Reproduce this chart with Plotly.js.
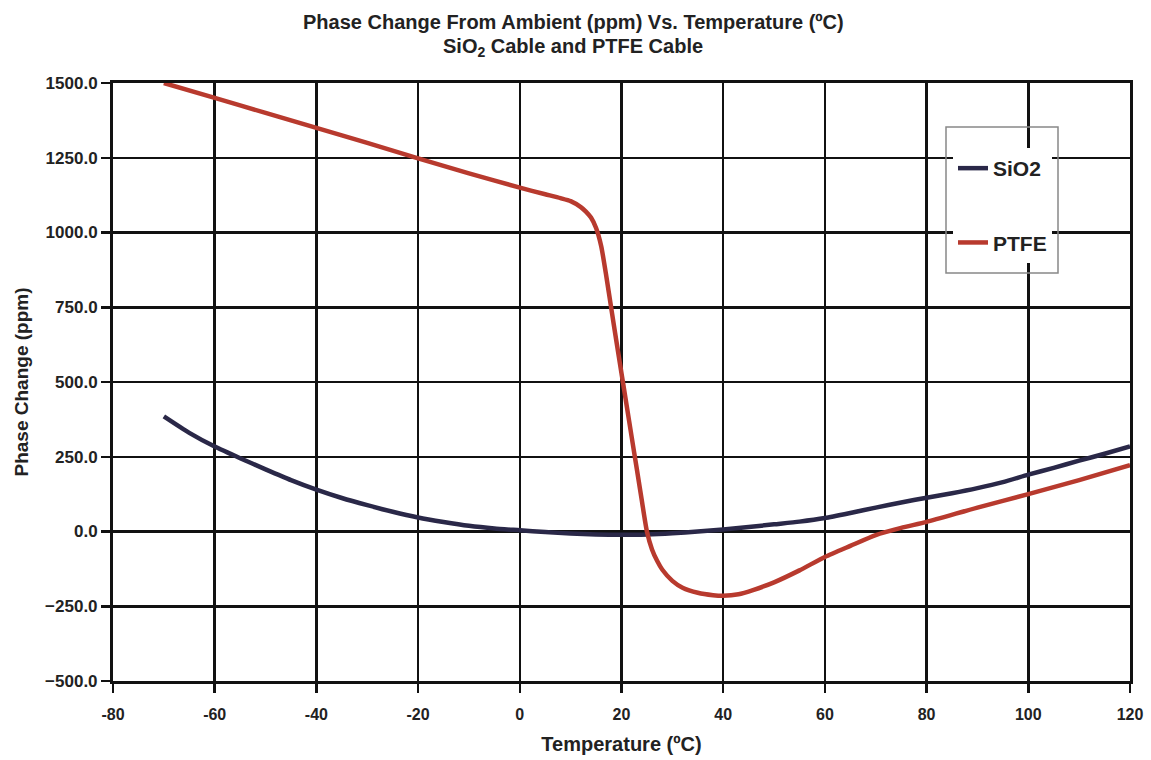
<!DOCTYPE html>
<html>
<head>
<meta charset="utf-8">
<script src="https://cdn.plot.ly/plotly-3.0.1.min.js"></script>
<style>html,body{margin:0;padding:0;background:#fff;}#chart{width:1151px;height:760px;}</style>
</head>
<body>
<div id="chart"></div>
<script>
const sio2X = [-70,-65,-60,-55,-50,-45,-40,-35,-30,-25,-20,-15,-10,-5,0,5,10,15,20,25,30,35,40,45,50,55,60,65,70,75,80,85,90,95,100,105,110,115,120];
const sio2Y = [385,330,284,245,208,172,140,112,88,66,47,32,19,10,4,-2,-7,-10,-11,-10,-6,0,7,15,24,33,45,62,80,97,113,128,145,165,190,213,237,260,285];

const ptfeX = [-70,-60,-50,-40,-30,-20,-10,0,5,8,10,12,13,14,15,16,17,18,19,20,21,22,23,24,25,26,27,28,30,32,35,38,40,43,46,50,55,60,65,70,75,80,90,100,110,120];
const ptfeY = [1500,1450,1400,1350,1300,1248,1198,1150,1128,1115,1105,1085,1070,1050,1015,955,855,745,636,529,423,316,210,103,0,-60,-98,-127,-165,-188,-205,-213,-215,-210,-195,-170,-130,-85,-48,-12,12,32,80,125,172,222];

const xTicks = [-80,-60,-40,-20,0,20,40,60,80,100,120];
const yTicks = [-500,-250,0,250,500,750,1000,1250,1500];

const titleLine1 = 'Phase Change From Ambient (ppm) Vs. Temperature (ºC)';
const titleLine2 = 'SiO<sub>2</sub> Cable and PTFE Cable';

const font = "Liberation Sans, Arial, sans-serif";
const ink = '#222';

const traces = [
  {x: sio2X, y: sio2Y, name: 'SiO2', mode: 'lines', legendgroup: 'a',
   line: {color: '#2a2848', width: 4.5, shape: 'spline', smoothing: 0.6}},
  {x: ptfeX, y: ptfeY, name: 'PTFE', mode: 'lines', legendgroup: 'b',
   line: {color: '#b83a2e', width: 4.5, shape: 'spline', smoothing: 0.6}}
];

const layout = {
  width: 1151, height: 760,
  paper_bgcolor: '#ffffff', plot_bgcolor: '#ffffff',
  margin: {l: 113, r: 21, t: 83, b: 79},
  annotations: [
    {text: '<b>' + titleLine1 + '</b>', xref: 'paper', yref: 'paper', x: (573 - 113) / 1017, y: 1 + (83 - 22) / 598,
     xanchor: 'center', yanchor: 'middle', showarrow: false, font: {family: font, size: 20, color: ink}},
    {text: '<b>' + titleLine2 + '</b>', xref: 'paper', yref: 'paper', x: (573 - 113) / 1017, y: 1 + (83 - 48) / 598,
     xanchor: 'center', yanchor: 'middle', showarrow: false, font: {family: font, size: 20, color: ink}}
  ],
  shapes: [
    {type: 'rect', xref: 'paper', yref: 'paper', layer: 'above',
     x0: (946 - 113) / 1017, x1: (1058 - 113) / 1017,
     y0: (681 - 273) / 598, y1: (681 - 127) / 598,
     line: {color: '#888', width: 1.5}, fillcolor: 'rgba(0,0,0,0)'}
  ],
  xaxis: {
    range: [-80, 120], tickvals: xTicks, ticktext: xTicks.map(String),
    showgrid: true, gridcolor: '#111', gridwidth: 2.5,
    showline: true, linecolor: '#111', linewidth: 3, mirror: true,
    ticks: 'outside', ticklen: 9, tickwidth: 2.5, tickcolor: '#111',
    ticklabelstandoff: 8,
    zeroline: false,
    tickfont: {family: font, size: 16, color: ink, weight: 'bold'},
    title: {text: '<b>Temperature (ºC)</b>', font: {family: font, size: 20, color: ink}, standoff: 15}
  },
  yaxis: {
    range: [-500, 1500], tickvals: yTicks, tickformat: '.1f',
    showgrid: true, gridcolor: '#111', gridwidth: 2.5,
    showline: true, linecolor: '#111', linewidth: 3, mirror: true,
    ticks: 'outside', ticklen: 9, tickwidth: 2.5, tickcolor: '#111',
    zeroline: false,
    tickfont: {family: font, size: 17, color: ink, weight: 'bold'},
    title: {text: '<b>Phase Change (ppm)</b>', font: {family: font, size: 19, color: ink}, standoff: 12}
  },
  legend: {
    x: (953 - 113) / 1017, y: (681 - 148) / 598, xanchor: 'left', yanchor: 'top',
    bgcolor: '#ffffff', bordercolor: '#888', borderwidth: 0,
    font: {family: font, size: 21, color: ink, weight: 'bold'},
    tracegroupgap: 44,
    itemwidth: 30
  },
  showlegend: true
};

Plotly.newPlot('chart', traces, layout, {displayModeBar: false, staticPlot: true});
</script>
</body>
</html>
